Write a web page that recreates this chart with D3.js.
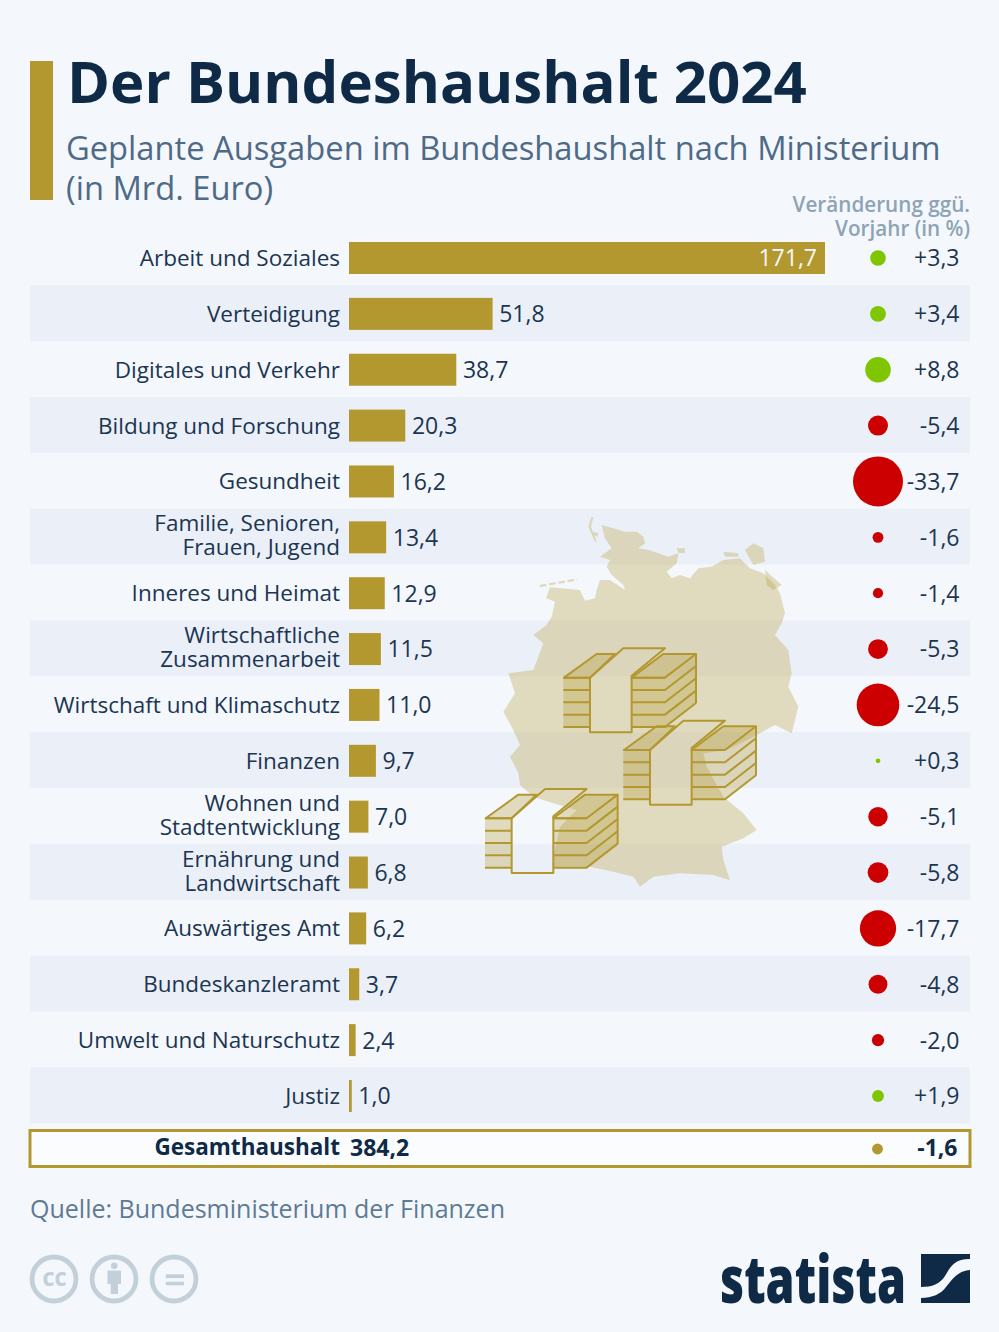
<!DOCTYPE html>
<html lang="de"><head><meta charset="utf-8">
<script src="https://cdn.jsdelivr.net/npm/d3@7/dist/d3.min.js"></script>
<style>html,body{margin:0;padding:0;background:#f4f8fc}svg{display:block}text{font-family:"Open Sans",sans-serif}</style>
</head><body><svg id="c" width="999" height="1332"></svg>
<script>
const categories=[["Arbeit und Soziales"],["Verteidigung"],["Digitales und Verkehr"],["Bildung und Forschung"],["Gesundheit"],["Familie, Senioren,","Frauen, Jugend"],["Inneres und Heimat"],["Wirtschaftliche","Zusammenarbeit"],["Wirtschaft und Klimaschutz"],["Finanzen"],["Wohnen und","Stadtentwicklung"],["Ernährung und","Landwirtschaft"],["Auswärtiges Amt"],["Bundeskanzleramt"],["Umwelt und Naturschutz"],["Justiz"]];
const spending=[171.7,51.8,38.7,20.3,16.2,13.4,12.9,11.5,11.0,9.7,7.0,6.8,6.2,3.7,2.4,1.0];
const change=[3.3,3.4,8.8,-5.4,-33.7,-1.6,-1.4,-5.3,-24.5,0.3,-5.1,-5.8,-17.7,-4.8,-2.0,1.9];
const totalLabel="Gesamthaushalt", totalSpending=384.2, totalChange=-1.6;

const GOLD="#b39830",NAVY="#0f2a46",GREEN="#7fc600",RED="#cc0000";
const de=d3.format(".1f");
const num=v=>de(v).replace(".",",").replace("−","-");
const signed=v=>(v>0?"+":"")+num(v);
const svg=d3.select("#c");
svg.append("rect").attr("width",999).attr("height",1332).attr("fill","#f4f8fc");

const rowIdx=d3.range(categories.length);
const y=d3.scalePoint().domain(rowIdx).range([258,1096]);
const x=d3.scaleLinear().domain([0,171.7]).range([349,825]);
const r=d3.scaleSqrt().domain([0,33.7]).range([0,25]);
const RH=y.step();

// header
svg.append("rect").attr("x",30).attr("y",61).attr("width",23).attr("height",139).attr("fill",GOLD);
svg.append("text").attr("x",67).attr("y",103).attr("font-size",58.2).attr("font-weight",700).attr("fill",NAVY).text("Der Bundeshaushalt 2024");
[["Geplante Ausgaben im Bundeshaushalt nach Ministerium",160],["(in Mrd. Euro)",200]].forEach(([t,yy])=>
 svg.append("text").attr("x",66).attr("y",yy).attr("font-size",32.7).attr("fill","#4f6a87").text(t));
[["Veränderung ggü.",211.5],["Vorjahr (in %)",235.5]].forEach(([t,yy])=>
 svg.append("text").attr("x",970).attr("y",yy).attr("text-anchor","end").attr("font-size",20.7).attr("font-weight",600).attr("fill","#8ea3b5").text(t));

// stripes
svg.append("g").selectAll("rect").data(rowIdx.filter(i=>i%2==1)).join("rect")
 .attr("x",30).attr("width",940).attr("y",i=>y(i)-RH/2-0.7).attr("height",RH).attr("fill","#ebf0f8");

// decorative map (traced at 3x from origin 480,510)
const mapPts=[[365,45],[400,55],[435,65],[470,65],[490,80],[495,100],[475,115],[505,120],[535,130],[565,140],[595,130],[590,160],[560,185],[575,205],[600,195],[630,205],[655,175],[695,170],[730,150],[780,145],[810,175],[850,190],[885,225],[900,250],[915,310],[905,340],[885,375],[925,420],[935,490],[925,530],[955,590],[935,670],[885,645],[820,680],[740,720],[670,730],[680,770],[730,860],[790,910],[830,960],[790,985],[725,1010],[730,1050],[750,1110],[700,1095],[600,1090],[520,1100],[480,1130],[460,1100],[400,1085],[330,1070],[300,1070],[215,1070],[220,1040],[240,950],[290,900],[220,880],[160,860],[120,825],[115,790],[90,740],[120,705],[100,660],[70,605],[105,550],[85,490],[160,480],[190,400],[160,375],[200,345],[215,320],[225,275],[198,265],[210,232],[300,240],[315,272],[345,265],[350,240],[360,210],[390,210],[435,240],[430,225],[395,195],[380,170],[390,150],[360,140],[395,115],[375,85]];
const mapG=svg.append("g").attr("transform","translate(480,510) scale(0.3333)");
const closed=d3.line().curve(d3.curveLinearClosed);
const islands=[[[335,20],[325,50],[345,95],[350,95],[333,50],[340,22]],[[590,115],[615,115],[615,130],[595,128]],[[795,120],[820,100],[850,115],[855,155],[820,165]],[[730,125],[775,130],[775,140],[735,140]],[[855,180],[905,225],[880,240],[860,225]],[[340,65],[355,70],[352,80],[342,76]]];
mapG.append("path").attr("d",closed(mapPts)).attr("fill",GOLD).attr("fill-opacity",0.3);
islands.forEach(p=>mapG.append("path").attr("d",closed(p)).attr("fill",GOLD).attr("fill-opacity",0.3));
mapG.append("path").attr("d","M180,228L292,208").attr("stroke",GOLD).attr("stroke-opacity",.3).attr("stroke-width",7).attr("stroke-dasharray","20 8").attr("fill","none");

// money stacks
function stack(dx,dy){
 const g=mapG.append("g").attr("transform",`translate(${dx},${dy})`).attr("stroke",GOLD).attr("stroke-width",6).attr("fill","none").attr("stroke-linejoin","round");
 const tint=o=>s=>s.attr("fill",GOLD).attr("fill-opacity",o);
 g.append("path").attr("d",closed([[250,503],[330,503],[330,652],[250,652]])).attr("stroke","none").call(tint(.3));
 g.append("path").attr("d",closed([[455,503],[555,503],[648,432],[648,580],[555,652],[455,652]])).attr("stroke","none").call(tint(.3));
 g.append("path").attr("d",closed([[252,503],[350,432],[405,432],[330,503]])).call(tint(.3));
 g.append("path").attr("d",closed([[455,503],[550,432],[648,432],[555,503]])).call(tint(.3));
 [540,577,614,651].forEach(yy=>{
  g.append("path").attr("d",`M250,${yy}H330M455,${yy}H555L648,${yy-72}`);
 });
 g.append("path").attr("d","M648,432V580");
 g.append("path").attr("d","M250,503H330M455,503H555");
 g.append("path").attr("d",closed([[330,503],[430,415],[555,415],[455,497],[455,667],[330,667]]));
}
stack(0,0);stack(180,217);stack(-235,422);

// rows
const rows=svg.append("g").selectAll("g").data(rowIdx).join("g").attr("transform",i=>`translate(0,${y(i)})`);
rows.append("rect").attr("x",x(0)).attr("y",-16).attr("height",32).attr("width",i=>x(spending[i])-x(0)).attr("fill",GOLD);
rows.each(function(i){
 const ls=categories[i],g=d3.select(this);
 ls.forEach((t,k)=>g.append("text").attr("x",340).attr("y",(ls.length>1?6:8)+(k-(ls.length-1)/2)*24).attr("text-anchor","end").attr("font-size",22.5).attr("fill","#1c3551").text(t));
});
rows.append("text").attr("x",i=>i==0?x(spending[i])-8:x(spending[i])+6.6).attr("y",8.4).attr("text-anchor",i=>i==0?"end":"start").attr("font-size",23).attr("fill",i=>i==0?"#f4f8fc":"#1c3551").text(i=>num(spending[i]));
rows.append("circle").attr("cx",878).attr("r",i=>r(Math.abs(change[i]))).attr("fill",i=>change[i]>0?GREEN:RED);
rows.append("text").attr("x",959.5).attr("y",8.4).attr("text-anchor","end").attr("font-size",23).attr("fill","#1c3551").text(i=>signed(change[i]));

// total
const t=svg.append("g");
t.append("rect").attr("x",30).attr("y",1130.5).attr("width",940).attr("height",36).attr("fill","#fbfcfe").attr("stroke",GOLD).attr("stroke-width",3);
t.append("text").attr("x",340).attr("y",1155).attr("text-anchor","end").attr("font-size",22.5).attr("font-weight",700).attr("fill",NAVY).text(totalLabel);
t.append("text").attr("x",350).attr("y",1156).attr("font-size",23).attr("font-weight",700).attr("fill",NAVY).text(num(totalSpending));
t.append("circle").attr("cx",877.5).attr("cy",1149).attr("r",r(Math.abs(totalChange))).attr("fill",GOLD);
t.append("text").attr("x",957.5).attr("y",1156).attr("text-anchor","end").attr("font-size",23).attr("font-weight",700).attr("fill",NAVY).text(num(totalChange));

// source
svg.append("text").attr("x",30).attr("y",1217.6).attr("font-size",25).attr("fill","#5f7a94").text("Quelle: Bundesministerium der Finanzen");

// cc icons
const CC="#c3d0da";
[54,114,174].forEach(cx=>svg.append("circle").attr("cx",cx).attr("cy",1279).attr("r",22).attr("fill","none").attr("stroke",CC).attr("stroke-width",4.8));
svg.append("text").attr("x",54.5).attr("y",1286).attr("text-anchor","middle").attr("font-size",18.5).attr("font-weight",800).attr("fill",CC).text("CC");
svg.append("circle").attr("cx",114.3).attr("cy",1265.7).attr("r",3.3).attr("fill",CC);
svg.append("path").attr("d","M107.5,1270.5H121V1284H118V1294H110.7V1284H107.5Z").attr("fill",CC);
svg.append("rect").attr("x",165.7).attr("y",1274.3).attr("width",18.3).attr("height",3.8).attr("fill",CC);
svg.append("rect").attr("x",165.7).attr("y",1281.7).attr("width",18.3).attr("height",3.6).attr("fill",CC);

// statista logo
svg.append("text").attr("x",720).attr("y",1303).attr("font-size",65).attr("font-weight",800).attr("fill",NAVY).attr("textLength",186).attr("lengthAdjust","spacingAndGlyphs").text("statista");
svg.append("path").attr("d","M921,1254H970V1259C953,1259 950,1268 945,1276C940,1284 932,1287 921,1287Z").attr("fill",NAVY);
svg.append("path").attr("d","M970,1270C957,1271 952,1280 946,1287C941,1294 932,1298 921,1298V1303H970Z").attr("fill",NAVY);
</script></body></html>
